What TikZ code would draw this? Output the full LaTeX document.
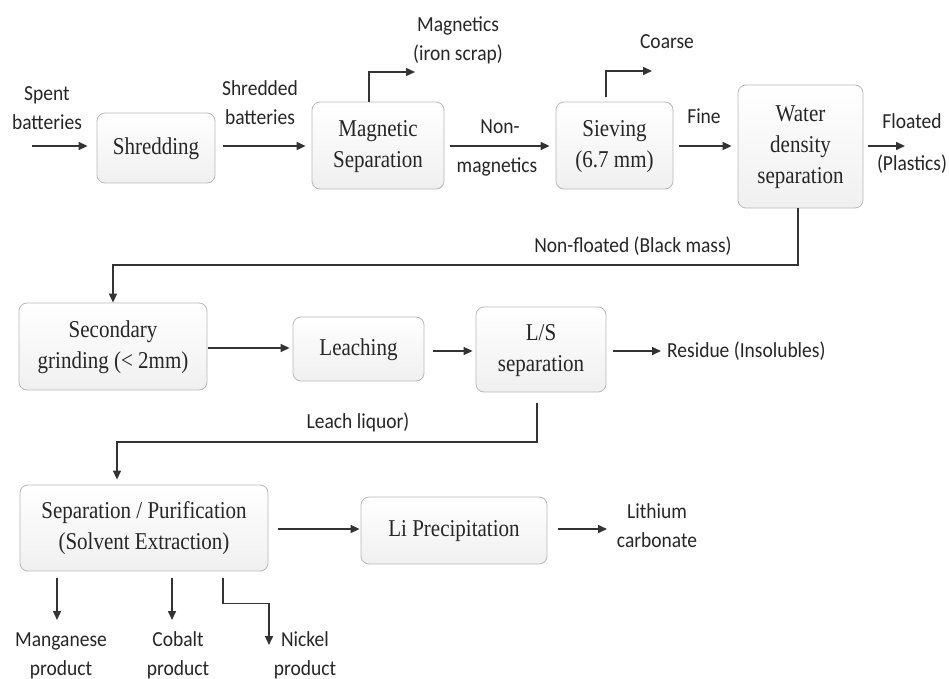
\documentclass[tikz,border=0pt]{standalone}
\usepackage{fontspec}
\usepackage{graphicx}
\setmainfont{Liberation Serif}
\newfontfamily\labfont{Carlito}
\usetikzlibrary{arrows.meta}
\newcommand\bx[1]{\scalebox{1}[1.15]{\begin{tabular}{@{}c@{}}#1\end{tabular}}}
\newcommand\lb[1]{\scalebox{1}[1.1]{\begin{tabular}{@{}c@{}}#1\end{tabular}}}
\tikzset{
  box/.style={draw=gray!55, line width=0.8pt, rounded corners=8pt, top color=white, bottom color=gray!12,
    align=center, inner sep=0pt, font=\fontsize{21}{27}\selectfont, text=black!85},
  lab/.style={align=center, inner sep=0pt, font=\labfont\fontsize{19.5}{26}\selectfont, text=black!85},
  arr/.style={line width=1.5pt, draw=black!80, -{Triangle[length=9pt,width=8pt]}}
}
\begin{document}
\begin{tikzpicture}[x=1pt,y=-1pt]
\useasboundingbox (0,0) rectangle (949,679);
% boxes
\node[box, minimum width=118pt, minimum height=70pt] (shred) at (156,148) {\bx{Shredding}};
\node[box, minimum width=132pt, minimum height=87pt] (mag) at (378,145.5) {\bx{Magnetic\\Separation}};
\node[box, minimum width=117pt, minimum height=87pt] (sieve) at (614.5,145.5) {\bx{Sieving\\(6.7 mm)}};
\node[box, minimum width=125pt, minimum height=123pt] (water) at (800.5,146.5) {\bx{Water\\density\\separation}};
\node[box, minimum width=188pt, minimum height=87pt] (grind) at (113,346.5) {\bx{Secondary\\grinding (< 2mm)}};
\node[box, minimum width=131pt, minimum height=64pt] (leach) at (358.5,349) {\bx{Leaching}};
\node[box, minimum width=130pt, minimum height=85pt] (ls) at (541,349.5) {\bx{L/S\\separation}};
\node[box, minimum width=248pt, minimum height=86pt] (sep) at (144,528) {\bx{Separation / Purification\\(Solvent Extraction)}};
\node[box, minimum width=186pt, minimum height=67pt] (li) at (454,530.5) {\bx{Li Precipitation}};
% labels
\node[lab] (spent) at (47,109) {\lb{Spent\\batteries}};
\node[lab] (shredded) at (260,104) {\lb{Shredded\\batteries}};
\node[lab] (magn) at (458,40) {\lb{Magnetics\\(iron scrap)}};
\node[lab] (nonA) at (500,128) {\lb{Non-}};
\node[lab] (nonB) at (497,167) {\lb{magnetics}};
\node[lab] (coarse) at (667,43) {\lb{Coarse}};
\node[lab] (fine) at (704,118) {\lb{Fine}};
\node[lab] (floated) at (912,123) {\lb{Floated}};
\node[lab] (plastics) at (912,165) {\lb{(Plastics)}};
\node[lab] (nonfl) at (633,247) {\lb{Non-floated (Black mass)}};
\node[lab, anchor=west] (resid) at (667,352) {\lb{Residue (Insolubles)}};
\node[lab] (leachliq) at (358,423) {\lb{Leach liquor)}};
\node[lab] (lithium) at (657,527) {\lb{Lithium\\carbonate}};
\node[lab] (mang) at (61,655) {\lb{Manganese\\product}};
\node[lab] (cobalt) at (178,655) {\lb{Cobalt\\product}};
\node[lab] (nickel) at (305,655) {\lb{Nickel\\product}};
% free-end coordinates
\coordinate (cin) at (32,146);
\coordinate (cmag) at (415,72);
\coordinate (ccoarse) at (652,71);
\coordinate (cfloat) at (905,146);
\coordinate (cbm) at (500,265);
\coordinate (cll) at (300,442);
\coordinate (cli) at (607,529);
\coordinate (cmn) at (57,620);
\coordinate (ccb) at (172,620);
\coordinate (cnk) at (269,645);
% connectors
\draw[arr, shorten >=9pt] (cin) -- (cin -| shred.west);
\draw[arr, shorten <=8pt, shorten >=6pt] (shred.east |- cin) -- (mag.west |- cin);
\draw[arr] ([xshift=-9pt]mag.north) |- (cmag);
\draw[arr, shorten <=6pt, shorten >=6pt] (mag.east |- cin) -- (sieve.west |- cin);
\draw[arr] ([xshift=-8.5pt,yshift=5pt]sieve.north) |- (ccoarse);
\draw[arr, shorten <=6pt, shorten >=6pt] (sieve.east |- cin) -- (water.west |- cin);
\draw[arr, shorten <=5pt] (water.east |- cin) -- (cfloat);
\draw[arr] ([xshift=-2.5pt]water.south) |- (cbm) -| (grind.north);
\draw[arr, shorten <=1pt, shorten >=3pt] (grind.east |- 0,348) -- (leach.west |- 0,348);
\draw[arr, shorten <=9pt, shorten >=3pt] (leach.east |- 0,351) -- (ls.west |- 0,351);
\draw[arr, shorten <=7pt, shorten >=6pt] (ls.east |- 0,351) -- (resid.west |- 0,351);
\draw[arr, shorten >=5pt] ([xshift=-4pt,yshift=-11pt]ls.south) |- (cll) -| ([xshift=-27pt]sep.north);
\draw[arr, shorten <=10pt, shorten >=1pt] (sep.east |- cli) -- (li.west |- cli);
\draw[arr, shorten <=11pt] (li.east |- cli) -- (cli);
\draw[arr] ([xshift=-87pt,yshift=-7pt]sep.south) -- (cmn);
\draw[arr] ([xshift=28pt,yshift=-7pt]sep.south) -- (ccb);
\draw[arr] ([xshift=79pt,yshift=-7pt]sep.south) -- ++(0,25) -| (cnk);
\end{tikzpicture}
\end{document}
